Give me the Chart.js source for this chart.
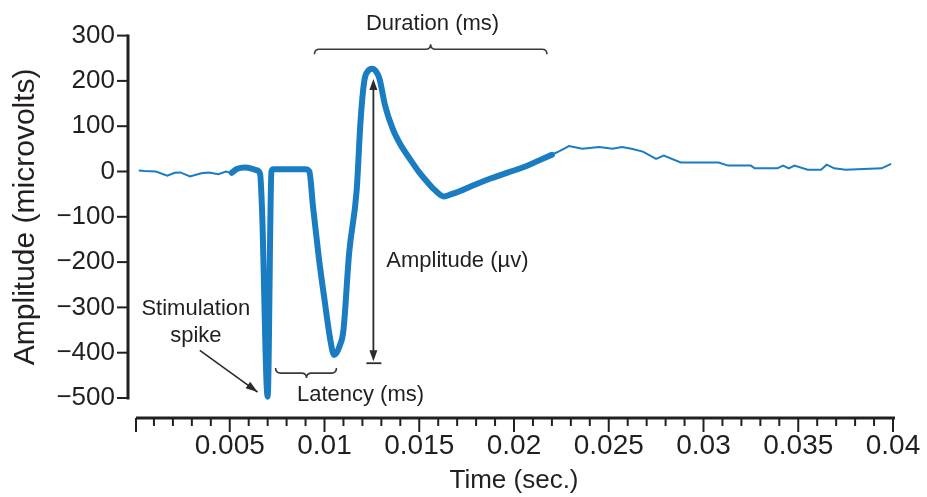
<!DOCTYPE html>
<html>
<head>
<meta charset="utf-8">
<script src="https://cdn.jsdelivr.net/npm/chart.js@4.4.1/dist/chart.umd.min.js"></script>
<style>
  html, body { margin: 0; padding: 0; background: #fff; }
  #wrap { width: 927px; height: 497px; }
</style>
</head>
<body>
<div id="wrap"><canvas id="emg"></canvas></div>
<script>
// baseline before the stimulus (thin trace)
const preTime = [0.0002, 0.0005, 0.0011, 0.0017, 0.0021, 0.0024, 0.0029, 0.0035, 0.0039, 0.0044, 0.0048, 0.0051];
const preAmp  = [2, 1, 0, -9, -3, -2, -11, -4, -2, -6, 0, -3];

// stimulation spike + evoked response (thick trace)
const evokedTime = [0.0051, 0.0054, 0.0058, 0.0062, 0.0064, 0.0066, 0.0067, 0.0070, 0.0072, 0.0073, 0.0090, 0.0092,
  0.0094, 0.0097, 0.0100, 0.0103, 0.0105, 0.0108, 0.0110, 0.0113, 0.0117, 0.0119, 0.0121, 0.0123, 0.0125, 0.0127,
  0.0129, 0.0132, 0.0136, 0.0140, 0.0145, 0.0150, 0.0154, 0.0158, 0.0163, 0.0167, 0.0171, 0.0180, 0.0188, 0.0197,
  0.0206, 0.0213, 0.0220];
const evokedAmp = [-3, 6, 9, 6, 3, -5, -80, -497, 0, 5, 5, 0,
  -80, -190, -283, -370, -405, -385, -350, -180, -40, 110, 200, 222, 227, 222,
  205, 145, 94, 60, 28, -2, -22, -40, -55, -50, -44, -28, -15, -2,
  11, 24, 37];

// tail after the response (thin trace)
const postTime = [0.0220, 0.0224, 0.0229, 0.0236, 0.0245, 0.0252, 0.0257, 0.0262, 0.0268, 0.0275, 0.0279, 0.0288,
  0.0308, 0.0313, 0.0325, 0.0327, 0.0339, 0.0342, 0.0345, 0.0348, 0.0355, 0.0362, 0.0365, 0.0369, 0.0375, 0.0394, 0.0399];
const postAmp = [37, 45, 56, 50, 54, 50, 54, 50, 44, 28, 35, 20,
  20, 13, 13, 7, 7, 13, 7, 13, 4, 4, 15, 7, 4, 7, 17];

const xMajorTicks = [0.005, 0.01, 0.015, 0.02, 0.025, 0.03, 0.035, 0.04];
const yTicks = [-500, -400, -300, -200, -100, 0, 100, 200, 300];

const ink = '#231f20';
const blue = '#1a7cc1';
const family = "'Liberation Sans', Arial, Helvetica, sans-serif";

const toPoints = (xs, ys) => xs.map((x, i) => ({ x: x, y: ys[i] }));

// annotation brackets, arrows and labels
const annotate = {
  id: 'annotate',
  afterDraw(chart) {
    const { ctx, chartArea } = chart;
    const xs = chart.scales.x, ys = chart.scales.y;
    const px = v => xs.getPixelForValue(v);
    const py = v => ys.getPixelForValue(v);
    ctx.save();

    // y axis, set a little left of the data
    const axisX = px(0) - 7;
    ctx.strokeStyle = ink;
    ctx.lineWidth = 3;
    ctx.beginPath();
    ctx.moveTo(axisX, py(300) - 1);
    ctx.lineTo(axisX, py(-500) + 1.5);
    ctx.stroke();
    ctx.lineWidth = 2;
    yTicks.forEach(v => {
      ctx.beginPath();
      ctx.moveTo(axisX - 11, py(v));
      ctx.lineTo(axisX, py(v));
      ctx.stroke();
    });

    // x axis, set a little below the data
    const axisY = chartArea.bottom + 20;
    ctx.lineWidth = 3;
    ctx.beginPath();
    ctx.moveTo(px(0) + 1, axisY);
    ctx.lineTo(px(0.04) + 2, axisY);
    ctx.stroke();
    ctx.lineWidth = 2;
    for (let i = 0; i <= 40; i++) {
      const xp = px(i / 1000) + (i === 0 ? 1 : 0);
      const len = i % 5 === 0 ? 14 : 8;
      ctx.beginPath();
      ctx.moveTo(xp, axisY);
      ctx.lineTo(xp, axisY + len);
      ctx.stroke();
    }

    // Duration bracket
    ctx.strokeStyle = '#3a3a3a';
    ctx.lineWidth = 1.6;
    let l = px(0.00947), r = px(0.02174), m = px(0.0156), b = py(270);
    ctx.beginPath();
    ctx.moveTo(l, b + 5);
    ctx.quadraticCurveTo(l, b, l + 5, b);
    ctx.lineTo(m - 5, b);
    ctx.quadraticCurveTo(m, b, m, b - 5);
    ctx.quadraticCurveTo(m, b, m + 5, b);
    ctx.lineTo(r - 5, b);
    ctx.quadraticCurveTo(r, b, r, b + 5);
    ctx.stroke();

    // Latency bracket
    l = px(0.00742); r = px(0.01063); m = px(0.00905); b = py(-445);
    ctx.beginPath();
    ctx.moveTo(l, b - 5);
    ctx.quadraticCurveTo(l, b, l + 5, b);
    ctx.lineTo(m - 5, b);
    ctx.quadraticCurveTo(m, b, m, b + 5);
    ctx.quadraticCurveTo(m, b, m + 5, b);
    ctx.lineTo(r - 5, b);
    ctx.quadraticCurveTo(r, b, r, b - 5);
    ctx.stroke();

    // Amplitude double arrow
    const ax = px(0.01258), top = py(204), bot = py(-421);
    ctx.strokeStyle = '#2b2b2b';
    ctx.fillStyle = '#2b2b2b';
    ctx.lineWidth = 1.8;
    ctx.beginPath();
    ctx.moveTo(ax, top + 8);
    ctx.lineTo(ax, bot - 8);
    ctx.stroke();
    ctx.beginPath();
    ctx.moveTo(ax, top); ctx.lineTo(ax - 4, top + 11); ctx.lineTo(ax + 4, top + 11); ctx.closePath();
    ctx.fill();
    ctx.beginPath();
    ctx.moveTo(ax, bot - 1); ctx.lineTo(ax - 4, bot - 12); ctx.lineTo(ax + 4, bot - 12); ctx.closePath();
    ctx.fill();
    ctx.beginPath();
    ctx.moveTo(ax - 7, bot + 1); ctx.lineTo(ax + 8, bot + 1);
    ctx.stroke();

    // Stimulation spike arrow
    const sx = px(0.00342), sy = py(-395), ex = px(0.00647), ey = py(-487);
    ctx.lineWidth = 1.6;
    ctx.beginPath();
    ctx.moveTo(sx, sy);
    ctx.lineTo(ex, ey);
    ctx.stroke();
    const ang = Math.atan2(ey - sy, ex - sx);
    ctx.beginPath();
    ctx.moveTo(ex, ey);
    ctx.lineTo(ex - 12 * Math.cos(ang) + 4 * Math.sin(ang), ey - 12 * Math.sin(ang) - 4 * Math.cos(ang));
    ctx.lineTo(ex - 12 * Math.cos(ang) - 4 * Math.sin(ang), ey - 12 * Math.sin(ang) + 4 * Math.cos(ang));
    ctx.closePath();
    ctx.fill();

    // labels
    ctx.fillStyle = ink;
    ctx.font = '22px ' + family;
    ctx.textBaseline = 'middle';
    ctx.textAlign = 'center';
    ctx.fillText('Duration (ms)', px(0.0157), py(325));
    ctx.fillText('Latency (ms)', px(0.0119), py(-493));
    ctx.fillText('Stimulation', px(0.00321), py(-303));
    ctx.fillText('spike', px(0.00321), py(-362));
    ctx.textAlign = 'left';
    ctx.fillText('Amplitude (\u00b5v)', px(0.01326), py(-197));

    ctx.restore();
  }
};

new Chart(document.getElementById('emg'), {
  type: 'line',
  data: {
    datasets: [
      {
        label: 'Baseline',
        data: toPoints(preTime, preAmp),
        borderColor: blue,
        borderWidth: 2,
        pointRadius: 0,
        tension: 0
      },
      {
        label: 'Evoked response',
        data: toPoints(evokedTime, evokedAmp),
        borderColor: blue,
        borderWidth: 6,
        pointRadius: 0,
        cubicInterpolationMode: 'monotone',
        borderJoinStyle: 'round',
        borderCapStyle: 'round',
        clip: false
      },
      {
        label: 'Tail',
        data: toPoints(postTime, postAmp),
        borderColor: blue,
        borderWidth: 2,
        pointRadius: 0,
        tension: 0
      }
    ]
  },
  options: {
    responsive: true,
    maintainAspectRatio: false,
    animation: false,
    devicePixelRatio: 1,
    layout: { padding: { top: 33, right: 34, left: 0, bottom: 0 } },
    plugins: {
      legend: { display: false },
      tooltip: { enabled: false }
    },
    scales: {
      x: {
        type: 'linear',
        min: 0,
        max: 0.04,
        grid: { display: false, drawTicks: false },
        border: { display: false },
        afterBuildTicks: s => { s.ticks = xMajorTicks.map(v => ({ value: v })); },
        afterFit: s => {
          s.height = 99;
          s.paddingLeft = 0;
          s.paddingRight = 34;
        },
        ticks: {
          autoSkip: false,
          maxRotation: 0,
          padding: 31,
          color: ink,
          font: { size: 28, family: family },
          callback: v => String(parseFloat(Number(v).toFixed(3)))
        },
        title: {
          display: true,
          text: 'Time (sec.)',
          color: ink,
          font: { size: 26, family: family },
          padding: { top: 0, bottom: 1 }
        }
      },
      y: {
        min: -500,
        max: 300,
        grid: { display: false, drawTicks: false },
        border: { display: false },
        afterBuildTicks: s => { s.ticks = yTicks.map(v => ({ value: v })); },
        afterFit: s => { s.width = 135; },
        ticks: {
          padding: 20,
          color: ink,
          font: { size: 26, family: family },
          callback: v => (v < 0 ? '\u2212' + Math.abs(v) : String(v))
        },
        title: {
          display: true,
          text: 'Amplitude (microvolts)',
          color: ink,
          font: { size: 30, family: family },
          padding: { top: 8, bottom: 0 }
        }
      }
    }
  },
  plugins: [annotate]
});
</script>
</body>
</html>
